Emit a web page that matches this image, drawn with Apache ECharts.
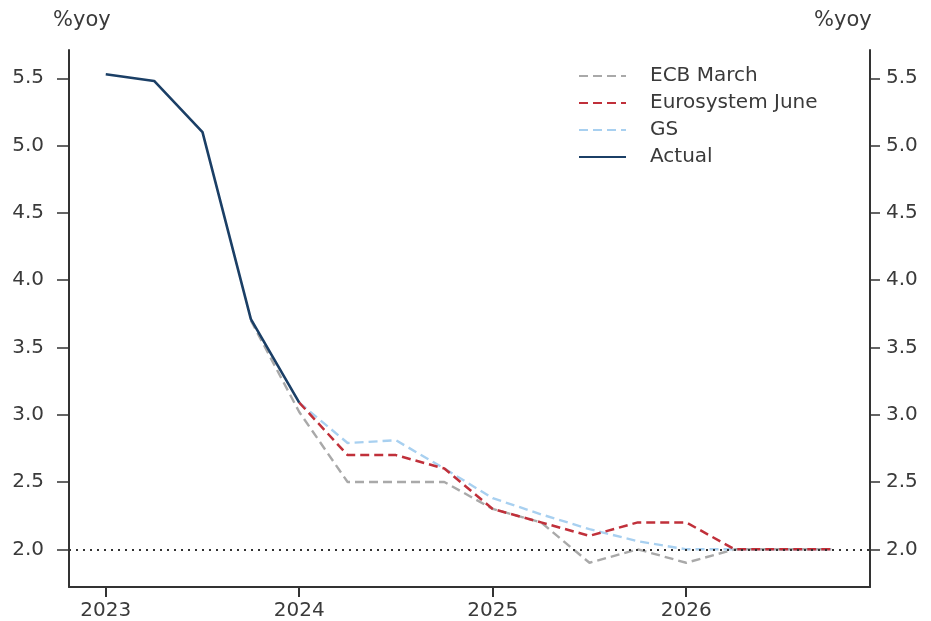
<!DOCTYPE html>
<html>
<head>
<meta charset="utf-8">
<script src="https://cdn.jsdelivr.net/npm/echarts@6/dist/echarts.min.js"></script>
<style>
  html, body { margin: 0; padding: 0; background: #fff; }
  #chart { width: 931px; height: 621px; }
</style>
</head>
<body>
<div id="chart"></div>
<script>
// quarterly points, x in fractional years
const actualX = [2023, 2023.25, 2023.5, 2023.75, 2024];
const actual = [5.53, 5.48, 5.1, 3.71, 3.09];

const ecbX = [2023.75, 2024, 2024.25, 2024.5, 2024.75, 2025, 2025.25, 2025.5, 2025.75, 2026, 2026.25, 2026.5, 2026.75];
const ecbMarch = [3.7, 3.02, 2.5, 2.5, 2.5, 2.3, 2.2, 1.9, 2.0, 1.9, 2.0, 2.0, 2.0];

const projX = [2024, 2024.25, 2024.5, 2024.75, 2025, 2025.25, 2025.5, 2025.75, 2026, 2026.25, 2026.5, 2026.75];
const euroJune = [3.09, 2.7, 2.7, 2.6, 2.3, 2.2, 2.1, 2.2, 2.2, 2.0, 2.0, 2.0];
const gs = [3.09, 2.79, 2.81, 2.6, 2.38, 2.26, 2.15, 2.06, 2.0, 2.0, 2.0, 2.0];

const yearTicks = [2023, 2024, 2025, 2026];
const yTicks = [2.0, 2.5, 3.0, 3.5, 4.0, 4.5, 5.0, 5.5];
const target = 2.0;

const pair = (xs, ys) => xs.map((x, i) => [x, ys[i]]);

const font = 'DejaVu Sans, sans-serif';
const axisCol = '#333';
const textCol = '#3a3a3a';

const yAxisFor = (pos, tickLen, margin) => ({
  type: 'value', position: pos, min: 1.72, max: 5.71,
  splitLine: { show: false },
  axisLine: { show: true, lineStyle: { color: axisCol, width: 2 } },
  axisTick: { show: true, customValues: yTicks, length: tickLen, lineStyle: { color: axisCol, width: 1.5 } },
  axisLabel: { customValues: yTicks, formatter: v => v.toFixed(1), color: textCol, fontSize: 20, fontFamily: font, margin: margin }
});

const chart = echarts.init(document.getElementById('chart'));
chart.setOption({
  animation: false,
  grid: { left: 69, right: 61, top: 50, bottom: 34, containLabel: false },
  graphic: [
    { type: 'text', left: 53, top: 10, style: { text: '%yoy', fontSize: 21, fontFamily: font, fill: textCol } },
    { type: 'text', left: 814, top: 10, style: { text: '%yoy', fontSize: 21, fontFamily: font, fill: textCol } }
  ],
  legend: {
    left: 573, top: 61, orient: 'vertical',
    itemWidth: 47, itemHeight: 17, itemGap: 7,
    itemStyle: { opacity: 0 },
    textStyle: { fontSize: 20, lineHeight: 20, fontFamily: font, color: textCol, padding: [0, 0, 0, 19] },
    data: ['ECB March', 'Eurosystem June', 'GS', 'Actual']
  },
  xAxis: {
    type: 'value', min: 2022.81, max: 2026.95,
    splitLine: { show: false },
    axisLine: { lineStyle: { color: axisCol, width: 2 } },
    axisTick: { show: true, customValues: yearTicks, length: 10, lineStyle: { color: axisCol, width: 2 } },
    axisLabel: { customValues: yearTicks, formatter: v => String(v), color: textCol, fontSize: 20, fontFamily: font, margin: 14 }
  },
  yAxis: [yAxisFor('left', 12, 25), yAxisFor('right', 10, 16)],
  series: [
    {
      name: 'ECB March', type: 'line', data: pair(ecbX, ecbMarch), symbol: 'none',
      itemStyle: { color: '#a9a9a9' },
      lineStyle: { color: '#a9a9a9', width: 2.4, type: [9, 5] },
      markLine: {
        silent: true, symbol: 'none', label: { show: false },
        lineStyle: { color: '#333', width: 2, type: [2, 5] },
        data: [{ yAxis: target }]
      }
    },
    {
      name: 'GS', type: 'line', data: pair(projX, gs), symbol: 'none',
      itemStyle: { color: '#a8d0f0' },
      lineStyle: { color: '#a8d0f0', width: 2.4, type: [9, 5] }
    },
    {
      name: 'Eurosystem June', type: 'line', data: pair(projX, euroJune), symbol: 'none',
      itemStyle: { color: '#c0303a' },
      lineStyle: { color: '#c0303a', width: 2.5, type: [9, 5] }
    },
    {
      name: 'Actual', type: 'line', data: pair(actualX, actual), symbol: 'none',
      itemStyle: { color: '#1b3f66' },
      lineStyle: { color: '#1b3f66', width: 2.6 }
    }
  ]
});
</script>
</body>
</html>
